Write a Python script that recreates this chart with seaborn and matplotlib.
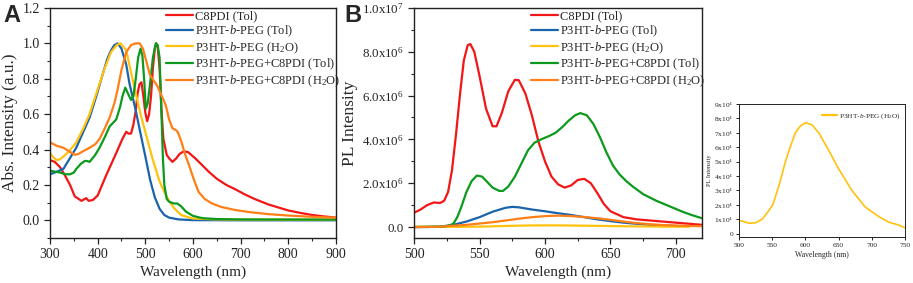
import numpy as np
import pandas as pd
import matplotlib
matplotlib.use("Agg")
import matplotlib.pyplot as plt
import seaborn as sns
from matplotlib.ticker import MultipleLocator, FixedLocator

# ---- panel A: absorption ----
wl_c8_abs = [300, 310, 321, 330, 342, 352, 366, 376, 381, 390, 400, 418, 439, 452, 460, 465, 470, 475, 480,
             484, 488, 492, 496, 500, 504, 508, 512, 516, 520, 523, 526, 530, 534, 538, 545, 550, 557, 565,
             572, 581, 590, 605, 620, 633, 650, 670, 689, 710, 730, 758, 780, 800, 825, 848, 875, 900]
abs_c8 = [0.34, 0.33, 0.30, 0.26, 0.20, 0.135, 0.11, 0.125, 0.11, 0.115, 0.14, 0.255, 0.38, 0.46, 0.50, 0.49,
          0.49, 0.54, 0.62, 0.72, 0.77, 0.78, 0.70, 0.61, 0.56, 0.60, 0.70, 0.86, 0.97, 1.0, 0.98, 0.86, 0.62,
          0.46, 0.37, 0.35, 0.33, 0.35, 0.375, 0.39, 0.385, 0.35, 0.31, 0.275, 0.235, 0.20, 0.175, 0.145, 0.12,
          0.09, 0.072, 0.056, 0.042, 0.031, 0.022, 0.015]

wl_p3_tol_abs = [300, 310, 328, 355, 383, 397, 410, 420, 428, 435, 442, 450, 460, 467, 480, 490, 501, 510,
                 520, 530, 540, 550, 570, 600, 700, 900]
abs_p3_tol = [0.26, 0.27, 0.29, 0.41, 0.58, 0.70, 0.82, 0.91, 0.96, 0.99, 1.0, 0.97, 0.88, 0.77, 0.62, 0.49,
              0.35, 0.23, 0.13, 0.065, 0.03, 0.015, 0.005, 0.001, 0.0, 0.0]

wl_p3_h2o_abs = [300, 307, 314, 321, 328, 340, 355, 370, 383, 400, 415, 428, 440, 448, 460, 473, 490, 500,
                 515, 530, 540, 550, 560, 575, 600, 650, 700, 900]
abs_p3_h2o = [0.38, 0.355, 0.34, 0.345, 0.36, 0.39, 0.44, 0.52, 0.60, 0.74, 0.86, 0.95, 0.99, 1.0, 0.96, 0.80,
              0.60, 0.50, 0.35, 0.22, 0.16, 0.11, 0.07, 0.03, 0.01, 0.005, 0.004, 0.003]

wl_mix_tol_abs = [300, 310, 321, 332, 342, 350, 355, 365, 373, 378, 383, 395, 404, 415, 425, 439, 447, 452,
                  458, 463, 470, 475, 480, 485, 490, 494, 498, 501, 505, 510, 516, 522, 526, 530, 534, 537,
                  540, 545, 550, 560, 567, 575, 585, 600, 620, 650, 700, 900]
abs_mix_tol = [0.28, 0.275, 0.27, 0.26, 0.26, 0.27, 0.29, 0.32, 0.335, 0.335, 0.33, 0.37, 0.41, 0.47, 0.53,
               0.57, 0.64, 0.70, 0.75, 0.72, 0.68, 0.70, 0.80, 0.92, 0.97, 0.93, 0.78, 0.63, 0.66, 0.77, 0.92,
               1.0, 0.99, 0.92, 0.60, 0.35, 0.20, 0.12, 0.105, 0.095, 0.095, 0.08, 0.05, 0.025, 0.012, 0.007,
               0.005, 0.004]

wl_mix_h2o_abs = [300, 315, 328, 340, 352, 360, 369, 383, 395, 404, 415, 425, 435, 442, 450, 460, 470, 480,
                  488, 495, 502, 510, 515, 525, 535, 543, 550, 557, 564, 568, 575, 584, 592, 602, 612, 625,
                  640, 660, 689, 720, 758, 800, 848, 900]
abs_mix_h2o = [0.44, 0.42, 0.41, 0.39, 0.37, 0.375, 0.39, 0.41, 0.43, 0.46, 0.52, 0.58, 0.66, 0.74, 0.85,
               0.95, 0.99, 1.0, 1.0, 0.97, 0.90, 0.82, 0.80, 0.76, 0.70, 0.65, 0.57, 0.52, 0.51, 0.50, 0.45,
               0.37, 0.31, 0.23, 0.16, 0.12, 0.095, 0.075, 0.058, 0.046, 0.035, 0.027, 0.02, 0.015]

# ---- panel B: PL ----
wl_c8_pl = [500, 505, 510, 515, 520, 523, 526, 529, 532, 535, 538, 541, 543, 546, 550, 555, 560, 563, 567,
            572, 577, 580, 585, 590, 595, 600, 605, 610, 615, 620, 625, 630, 635, 640, 645, 650, 660, 670,
            680, 690, 700, 710, 720]
pl_c8 = [0.65e6, 0.8e6, 1.0e6, 1.12e6, 1.1e6, 1.2e6, 1.6e6, 2.6e6, 4.2e6, 6.0e6, 7.6e6, 8.3e6, 8.35e6, 8.0e6,
         6.9e6, 5.4e6, 4.6e6, 4.6e6, 5.2e6, 6.2e6, 6.72e6, 6.7e6, 6.1e6, 5.1e6, 3.9e6, 3.0e6, 2.3e6, 1.95e6,
         1.8e6, 1.9e6, 2.15e6, 2.2e6, 2.0e6, 1.55e6, 1.05e6, 0.72e6, 0.45e6, 0.35e6, 0.3e6, 0.25e6, 0.2e6,
         0.15e6, 0.1e6]

wl_p3_tol_pl = [500, 510, 520, 530, 540, 550, 560, 570, 575, 580, 590, 600, 610, 620, 630, 640, 650, 660,
                670, 680, 690, 700]
pl_p3_tol = [0.0, 0.0, 0.02e6, 0.1e6, 0.25e6, 0.45e6, 0.7e6, 0.88e6, 0.92e6, 0.9e6, 0.8e6, 0.72e6, 0.63e6,
             0.55e6, 0.45e6, 0.35e6, 0.27e6, 0.2e6, 0.15e6, 0.1e6, 0.07e6, 0.05e6]

wl_mix_tol_pl = [500, 510, 520, 526, 530, 533, 536, 540, 544, 548, 552, 556, 560, 565, 568, 572, 577, 582,
                 587, 592, 597, 603, 608, 613, 618, 623, 627, 632, 637, 642, 647, 652, 657, 662, 667, 675,
                 685, 695, 705, 712, 720]
pl_mix_tol = [0.0, 0.01e6, 0.02e6, 0.05e6, 0.15e6, 0.45e6, 0.9e6, 1.6e6, 2.1e6, 2.35e6, 2.3e6, 2.05e6, 1.8e6,
              1.65e6, 1.65e6, 1.85e6, 2.3e6, 2.9e6, 3.5e6, 3.85e6, 4.0e6, 4.15e6, 4.3e6, 4.55e6, 4.85e6,
              5.1e6, 5.2e6, 5.1e6, 4.7e6, 4.1e6, 3.4e6, 2.8e6, 2.4e6, 2.1e6, 1.85e6, 1.5e6, 1.2e6, 0.95e6,
              0.7e6, 0.55e6, 0.4e6]

wl_mix_h2o_pl = [500, 520, 540, 550, 560, 570, 580, 590, 600, 610, 620, 630, 640, 650, 660, 670, 680, 690,
                 700, 710, 720]
pl_mix_h2o = [0.0, 0.02e6, 0.1e6, 0.16e6, 0.22e6, 0.3e6, 0.38e6, 0.45e6, 0.5e6, 0.52e6, 0.5e6, 0.46e6,
              0.4e6, 0.33e6, 0.25e6, 0.18e6, 0.13e6, 0.09e6, 0.07e6, 0.05e6, 0.04e6]

# ---- panel C: P3HT-b-PEG (H2O) PL ----
wl_p3_h2o_pl = [500, 515, 525, 535, 545, 551, 560, 570, 577, 585, 592, 600, 610, 620, 635, 650, 670, 690,
                710, 725, 740, 750]
pl_p3_h2o = [0.93e4, 0.72e4, 0.75e4, 1.0e4, 1.6e4, 2.0e4, 3.3e4, 5.0e4, 6.0e4, 7.0e4, 7.45e4, 7.7e4, 7.55e4,
             7.0e4, 5.8e4, 4.5e4, 3.0e4, 1.85e4, 1.2e4, 0.8e4, 0.6e4, 0.4e4]

RED, BLUE, YEL, GRN, ORG = "#f21616", "#1a63ad", "#ffc20e", "#0c9a1c", "#ff7f16"
lab_c8 = "C8PDI (Tol)"
lab_p3_tol = r"P3HT-$b$-PEG (Tol)"
lab_p3_h2o = r"P3HT-$b$-PEG (H$_2$O)"
lab_mix_tol = r"P3HT-$b$-PEG+C8PDI (Tol)"
lab_mix_h2o = r"P3HT-$b$-PEG+C8PDI (H$_2$O)"

sns.set_style("ticks")
plt.rcParams["font.family"] = ["Liberation Serif", "DejaVu Serif"]
plt.rcParams["mathtext.fontset"] = "custom"
plt.rcParams["mathtext.rm"] = "Liberation Serif"
plt.rcParams["mathtext.it"] = "Liberation Serif:italic"
plt.rcParams["axes.linewidth"] = 1.0
plt.rcParams["axes.edgecolor"] = "#222222"

fig = plt.figure(figsize=(9.13, 2.83), dpi=100)
axA = fig.add_axes([0.0548, 0.159, 0.313, 0.813])
axB = fig.add_axes([0.4535, 0.159, 0.3155, 0.813])
axC = fig.add_axes([0.8094, 0.1625, 0.1818, 0.47])

lw = 1.6
sns.lineplot(x=wl_c8_abs, y=abs_c8, ax=axA, color=RED, lw=lw, label=lab_c8)
sns.lineplot(x=wl_p3_tol_abs, y=abs_p3_tol, ax=axA, color=BLUE, lw=lw, label=lab_p3_tol)
sns.lineplot(x=wl_p3_h2o_abs, y=abs_p3_h2o, ax=axA, color=YEL, lw=lw, label=lab_p3_h2o)
sns.lineplot(x=wl_mix_tol_abs, y=abs_mix_tol, ax=axA, color=GRN, lw=lw, label=lab_mix_tol)
sns.lineplot(x=wl_mix_h2o_abs, y=abs_mix_h2o, ax=axA, color=ORG, lw=lw, label=lab_mix_h2o)

# yellow trace in B is the same series as the side panel, cut at 720 nm
n_b = sum(w <= 720 for w in wl_p3_h2o_pl)
sns.lineplot(x=wl_c8_pl, y=pl_c8, ax=axB, color=RED, lw=lw, label=lab_c8)
sns.lineplot(x=wl_p3_tol_pl, y=pl_p3_tol, ax=axB, color=BLUE, lw=lw, label=lab_p3_tol)
sns.lineplot(x=wl_p3_h2o_pl[:n_b], y=pl_p3_h2o[:n_b], ax=axB, color=YEL, lw=lw, label=lab_p3_h2o)
sns.lineplot(x=wl_mix_tol_pl, y=pl_mix_tol, ax=axB, color=GRN, lw=lw, label=lab_mix_tol)
sns.lineplot(x=wl_mix_h2o_pl, y=pl_mix_h2o, ax=axB, color=ORG, lw=lw, label=lab_mix_h2o)

sns.lineplot(x=wl_p3_h2o_pl, y=pl_p3_h2o, ax=axC, color=YEL, lw=1.2, label=lab_p3_h2o)

for ax in (axA, axB, axC):
    for s in ax.spines.values():
        s.set_visible(True)
    ax.tick_params(direction="out", length=4, width=0.9, labelsize=10, colors="#222222")
    ax.tick_params(which="minor", direction="out", length=2, width=0.8)

axA.set_xlim(300, 900)
axA.set_ylim(-0.1, 1.2)
axA.xaxis.set_major_locator(MultipleLocator(100))
axA.xaxis.set_minor_locator(MultipleLocator(50))
axA.yaxis.set_major_locator(FixedLocator([0, 0.2, 0.4, 0.6, 0.8, 1.0, 1.2]))
axA.yaxis.set_minor_locator(MultipleLocator(0.1))
axA.set_yticklabels(["0.0", "0.2", "0.4", "0.6", "0.8", "1.0", "1.2"])
axA.set_xlabel("Wavelength (nm)", fontsize=11, labelpad=3)
axA.set_ylabel("Abs. Intensity (a.u.)", fontsize=12.5, labelpad=3)

axB.set_xlim(500, 720)
axB.set_ylim(-0.5e6, 1.0e7)
axB.xaxis.set_major_locator(MultipleLocator(50))
axB.xaxis.set_minor_locator(MultipleLocator(25))
b_ticks = [0, 2e6, 4e6, 6e6, 8e6, 1e7]
axB.yaxis.set_major_locator(FixedLocator(b_ticks))
axB.yaxis.set_minor_locator(MultipleLocator(1e6))
axB.set_yticklabels(["0.0", r"2.0x10$^6$", r"4.0x10$^6$", r"6.0x10$^6$", r"8.0x10$^6$", r"1.0x10$^7$"])
axB.tick_params(axis="y", labelsize=9.3)
axB.set_xlabel("Wavelength (nm)", fontsize=11, labelpad=3)
axB.set_ylabel("PL Intensity", fontsize=12.5, labelpad=3)

axC.set_xlim(500, 750)
axC.set_ylim(-2400, 90000)
axC.xaxis.set_major_locator(MultipleLocator(50))
c_ticks = [i * 1e4 for i in range(10)]
axC.yaxis.set_major_locator(FixedLocator(c_ticks))
axC.set_yticklabels(["0"] + [rf"{i}x10$^4$" for i in range(1, 10)])
axC.tick_params(labelsize=5.3, length=2.2, width=0.7, pad=2)
for s in axC.spines.values():
    s.set_linewidth(0.7)
axC.set_xlabel("Wavelength (nm)", fontsize=5.6, labelpad=2)
axC.set_ylabel("PL Intensity", fontsize=4.6, labelpad=1.5)

legA = axA.legend(loc="upper left", bbox_to_anchor=(0.39, 1.012), frameon=False, fontsize=9,
                  handlelength=2.1, handletextpad=0.15, labelspacing=0.1, borderaxespad=0)
legB = axB.legend(loc="upper left", bbox_to_anchor=(0.39, 1.012), frameon=False, fontsize=9,
                  handlelength=2.1, handletextpad=0.15, labelspacing=0.1, borderaxespad=0)
legC = axC.legend(loc="upper right", bbox_to_anchor=(1.0, 0.97), frameon=False, fontsize=5.3,
                  handlelength=2.0, handletextpad=0.3, borderaxespad=0.1)
for leg in (legA, legB, legC):
    for ln in leg.get_lines():
        ln.set_linewidth(1.6)

fig.text(0.004, 0.985, "A", fontsize=17, fontweight="bold", family="Liberation Sans", va="top")
fig.text(0.377, 0.985, "B", fontsize=17, fontweight="bold", family="Liberation Sans", va="top")

fig.savefig("out.png", dpi=100)
